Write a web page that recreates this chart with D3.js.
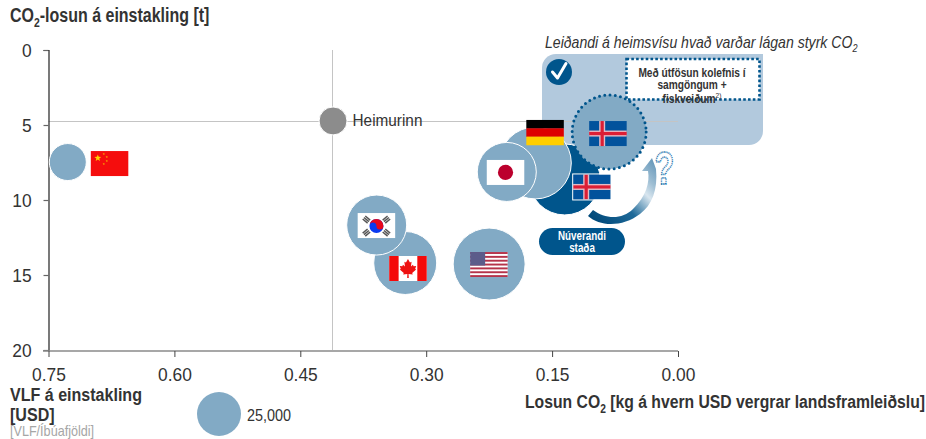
<!DOCTYPE html>
<html lang="is">
<head>
<meta charset="utf-8">
<script src="https://cdn.jsdelivr.net/npm/d3@7"></script>
<style>
  html, body { margin: 0; padding: 0; background: #fff; }
  svg { display: block; }
  text { font-family: "Liberation Sans", Arial, sans-serif; fill: #333; }
  .b { font-weight: 700; }
</style>
</head>
<body>
<svg id="chart" width="926" height="439"></svg>
<script>
// Carbon intensity of GDP against per-capita emissions; bubble area is GDP per capita.
const countries   = ["cn", "world", "ca", "kr", "us", "is", "de", "jp", "isTarget"];
const co2PerGdp   = [0.727, 0.411, 0.325, 0.359, 0.225, 0.135, 0.170, 0.204, 0.082];
const co2PerHead  = [7.47, 4.73, 14.2, 11.67, 14.27, 8.63, 7.53, 8.13, 5.47];
const gdpPerHead  = [17700, 10100, 51250, 46500, 66900, 65100, 66900, 45000, 70700];
const xTicks      = [0.75, 0.60, 0.45, 0.30, 0.15, 0.00];
const yTicks      = [0, 5, 10, 15, 20];
const legendValue = 25000;
const worldLabel  = "Heimurinn";

const BUBBLE = "#82aac5", DARK = "#00558c", PANEL = "#b2c9dd";

const svg = d3.select("#chart");
const x = d3.scaleLinear().domain([0.75, 0]).range([48.5, 678]);
const y = d3.scaleLinear().domain([0, 20]).range([50, 350]);
const r = d3.scaleSqrt().domain([0, legendValue]).range([0, 22]);

const points = countries.map((id, i) => ({
  id, gx: co2PerGdp[i], gy: co2PerHead[i], gdp: gdpPerHead[i]
}));
const world = points.find(d => d.id === "world");

// Condensed text helper: squeezes the face horizontally and mixes sub/superscript runs.
function rich(parent, px, py, size, runs, opts = {}) {
  const t = parent.append("text")
    .attr("transform", `translate(${px},${py}) scale(${opts.sx || 0.82},1)`)
    .attr("font-size", size).attr("class", opts.bold ? "b" : null)
    .attr("text-anchor", opts.anchor || "start");
  if (opts.italic) t.attr("font-style", "italic");
  if (opts.fill) t.style("fill", opts.fill);
  runs.forEach(run => {
    const [s, kind] = Array.isArray(run) ? run : [run];
    const ts = t.append("tspan").text(s);
    if (kind === "sub") ts.attr("font-size", size * 0.65).attr("dy", size * 0.25);
    if (kind === "sup") ts.attr("font-size", size * 0.65).attr("dy", -size * 0.4).style("font-weight", 400);
    if (kind === "back") ts.attr("dy", -size * 0.25);
  });
  return t;
}

// Target panel sits behind the grid lines and bubbles
svg.append("path").attr("fill", PANEL)
  .attr("d", "M542,68 a14,14 0 0 1 14,-14 H763 V131 a14,14 0 0 1 -14,14 H542 Z");

// World reference lines
const refLines = svg.append("g").attr("stroke", "#c4c4c4").attr("stroke-width", 1);
refLines.append("line").attr("x1", Math.round(x(world.gx)) - 0.5).attr("x2", Math.round(x(world.gx)) - 0.5).attr("y1", y(0)).attr("y2", y(20));
refLines.append("line").attr("x1", x(0.75)).attr("x2", x(0)).attr("y1", Math.round(y(world.gy)) + 0.5).attr("y2", Math.round(y(world.gy)) + 0.5);

// Axes
const yAxis = svg.append("g").attr("transform", `translate(${x(0.75)},0)`)
  .call(d3.axisLeft(y).tickValues(yTicks).tickSize(5).tickPadding(13).tickFormat(d3.format("d")));
yAxis.select(".domain").attr("stroke", "#222").attr("stroke-width", 1.2);
yAxis.selectAll(".tick line").attr("stroke", "#666").attr("stroke-width", 1.2);
yAxis.selectAll("text").attr("font-size", 18.5).attr("dy", "0.36em").attr("transform", "scale(0.94,1)");

const xAxis = svg.append("g").attr("transform", "translate(0,351)")
  .call(d3.axisBottom(x).tickValues(xTicks).tickSize(6).tickPadding(10.5).tickFormat(d3.format(".2f")));
xAxis.select(".domain").attr("stroke", "#8a8a8a").attr("stroke-width", 1.6).attr("d", `M43,0H${x(0)}`);
xAxis.selectAll(".tick line").attr("stroke", "#444");
xAxis.selectAll("text").attr("font-size", 18.5).attr("transform", "scale(0.94,1)");

// Bubbles
svg.append("g").selectAll("circle").data(points).join("circle")
  .attr("cx", d => x(d.gx)).attr("cy", d => y(d.gy)).attr("r", d => r(d.gdp))
  .attr("fill", d => d.id === "is" ? DARK : d.id === "world" ? "#8c8c8c" : BUBBLE)
  .attr("stroke", d => d.id === "isTarget" ? DARK : "#fff")
  .attr("stroke-width", d => d.id === "isTarget" ? 3 : 1)
  .attr("stroke-linecap", d => d.id === "isTarget" ? "round" : null)
  .attr("stroke-dasharray", d => d.id === "isTarget" ? "0 5.3" : null);

// Flags: all drawn in a 37.5 x 25 box
const FW = 37.5, FH = 25;
const star = (cx, cy, o) => {
  const pts = d3.range(10).map(i => {
    const a = -Math.PI / 2 + i * Math.PI / 5, R = i % 2 ? o * 0.42 : o;
    return [cx + R * Math.cos(a), cy + R * Math.sin(a)];
  });
  return "M" + pts.join("L") + "Z";
};
const flags = {
  cn(g) {
    g.append("rect").attr("width", FW).attr("height", FH).attr("fill", "#f50d0d");
    g.append("path").attr("fill", "#ffd400").attr("d", star(7, 7, 3.6));
    [[13, 3], [16, 6], [16, 10], [13, 13]].forEach(p =>
      g.append("path").attr("fill", "#f7a800").attr("d", star(p[0], p[1], 1.3)));
  },
  kr(g) {
    g.append("rect").attr("width", FW).attr("height", FH).attr("fill", "#fff");
    const c = [FW / 2, FH / 2 + 0.5];
    g.append("circle").attr("cx", c[0]).attr("cy", c[1]).attr("r", 7).attr("fill", "#0a3af0");
    g.append("path").attr("fill", "#e8071c")
      .attr("d", `M${c[0] - 7},${c[1]} A7,7 0 0 1 ${c[0] + 7},${c[1]} A3.5,3.5 0 0 1 ${c[0]},${c[1]} A3.5,3.5 0 0 0 ${c[0] - 7},${c[1]} Z`);
    [[-10, -6.5, 40], [10, -6.5, -40], [-10, 6.5, -40], [10, 6.5, 40]].forEach(([dx, dy, a]) => {
      const tri = g.append("g").attr("transform", `translate(${c[0] + dx},${c[1] + dy}) rotate(${a})`);
      [-2, 0, 2].forEach(o => tri.append("rect").attr("x", -3.2).attr("y", o - 0.75)
        .attr("width", 6.4).attr("height", 1.5).attr("fill", "#555"));
    });
  },
  ca(g) {
    g.append("rect").attr("width", FW).attr("height", FH).attr("fill", "#fff");
    g.append("rect").attr("width", 9.4).attr("height", FH).attr("fill", "#f40a0a");
    g.append("rect").attr("x", FW - 9.4).attr("width", 9.4).attr("height", FH).attr("fill", "#f40a0a");
    g.append("path").attr("fill", "#ee1111").attr("transform", `translate(${FW / 2},${FH / 2})`)
      .attr("d", "M0,-9.5 L2,-6 L3.6,-6.8 L3,-2 L5,-3.8 L5.6,-2.2 L8.2,-2.6 L7.2,0.4 L8.2,1 L4.2,4.4 L4.8,6 L0.6,5.4 L0.8,9.5 L-0.8,9.5 L-0.6,5.4 L-4.8,6 L-4.2,4.4 L-8.2,1 L-7.2,0.4 L-8.2,-2.6 L-5.6,-2.2 L-5,-3.8 L-3,-2 L-3.6,-6.8 L-2,-6 Z");
  },
  us(g) {
    g.append("rect").attr("width", FW).attr("height", FH).attr("fill", "#fff");
    d3.range(0, 13, 2).forEach(i =>
      g.append("rect").attr("y", i * FH / 13).attr("width", FW).attr("height", FH / 13).attr("fill", "#b5334a"));
    g.append("rect").attr("width", 15).attr("height", 13.5).attr("fill", "#5c5c8a");
  },
  is(g) {
    g.append("rect").attr("width", FW).attr("height", FH).attr("fill", "#02529c");
    g.append("rect").attr("x", 10).attr("width", 6).attr("height", FH).attr("fill", "#e4b9c4");
    g.append("rect").attr("y", 9.5).attr("width", FW).attr("height", 6).attr("fill", "#e4b9c4");
    g.append("rect").attr("x", 11.4).attr("width", 3.2).attr("height", FH).attr("fill", "#dc1e35");
    g.append("rect").attr("y", 10.9).attr("width", FW).attr("height", 3.2).attr("fill", "#dc1e35");
  },
  de(g) {
    ["#000", "#dd0000", "#ffce00"].forEach((c, i) =>
      g.append("rect").attr("y", i * FH / 3).attr("width", FW).attr("height", FH / 3 + 0.3).attr("fill", c));
  },
  jp(g) {
    g.append("rect").attr("width", FW).attr("height", FH).attr("fill", "#fff");
    g.append("circle").attr("cx", FW / 2).attr("cy", FH / 2).attr("r", 7.6).attr("fill", "#bc002d");
  }
};

// Where each flag sits relative to the centre of its bubble
const flagOffset = {
  cn: [23, -11], kr: [-19, -12], ca: [-16, -7], us: [-19, -12],
  is: [8.5, -5], de: [-9, -43], jp: [-20, -12], isTarget: [-20, -11]
};
const flagDraw = { isTarget: "is" };
const flagLayer = svg.append("g");
["cn", "ca", "kr", "us", "jp", "de", "is", "isTarget"].forEach(id => {
  const d = points.find(p => p.id === id);
  const [dx, dy] = flagOffset[id];
  const g = flagLayer.append("g").attr("transform", `translate(${x(d.gx) + dx},${y(d.gy) + dy})`);
  flags[flagDraw[id] || id](g);
  if (id === "is") g.append("rect").attr("x", -0.5).attr("y", -0.5).attr("width", FW + 1).attr("height", FH + 1)
    .attr("fill", "none").attr("stroke", "#fff").attr("stroke-width", 1);
});

// Curved arrow from the current position to the target
const defs = svg.append("defs");
const grad = defs.append("linearGradient").attr("id", "arrowFill")
  .attr("gradientUnits", "userSpaceOnUse").attr("x1", 590).attr("y1", 216).attr("x2", 650).attr("y2", 160);
[[0, "#00497a"], [0.4, "#1f6a99"], [0.68, "#d9e6ef"], [0.82, "#9fbfd4"], [1, "#6f9dbd"]].forEach(([o, c]) =>
  grad.append("stop").attr("offset", o).attr("stop-color", c));
svg.append("path").attr("fill", "url(#arrowFill)")
  .attr("d", "M593,210 C605,219 622,220 633,209 C646,197 650,182 648,171 L642,171 L652,158 L656,169 C658,190 652,205 640,214 C623,227 600,227 588,216 Z");

svg.append("text").attr("transform", "translate(654.5,184) scale(0.7,1)").attr("font-size", 46).attr("class", "b")
  .style("fill", "#fff").attr("stroke", "#2a78b0").attr("stroke-width", 1.8).attr("stroke-dasharray", "1.2 1")
  .text("?");

// Panel furniture
svg.append("circle").attr("cx", 559).attr("cy", 72).attr("r", 13).attr("fill", DARK);
svg.append("path").attr("d", "M552.5,72 L557.5,78 L566,63.5").attr("fill", "none")
  .attr("stroke", "#fff").attr("stroke-width", 3).attr("stroke-linecap", "round").attr("stroke-linejoin", "round");
svg.append("rect").attr("x", 626.5).attr("y", 59).attr("width", 133).attr("height", 40.5).attr("fill", "#fff")
  .attr("stroke", DARK).attr("stroke-width", 2.6).attr("stroke-dasharray", "2.6 2.2");

rich(svg, 692, 77, 12.4, ["Með útfösun kolefnis í"], { bold: true, anchor: "middle" });
rich(svg, 692, 89, 12.4, ["samgöngum +"], { bold: true, anchor: "middle" });
rich(svg, 692, 103, 12.4, ["fiskveiðum", ["2)", "sup"]], { bold: true, anchor: "middle" });

rich(svg, 545, 48, 16, ["Leiðandi á heimsvísu hvað varðar lágan styrk CO", ["2", "sub"]], { italic: true, sx: 0.88 });

// Current-position tag
svg.append("rect").attr("x", 539).attr("y", 228).attr("width", 86).attr("height", 27).attr("rx", 13.5).attr("fill", DARK);
rich(svg, 582, 240, 12, ["Núverandi"], { bold: true, anchor: "middle", fill: "#fff" });
rich(svg, 582, 252, 12, ["staða"], { bold: true, anchor: "middle", fill: "#fff" });

// Labels and titles
rich(svg, x(world.gx) + 19.5, 126, 16.5, [worldLabel], { sx: 0.93 });
rich(svg, 10, 22, 19.5, ["CO", ["2", "sub"], ["-losun á einstakling [t]", "back"]], { bold: true });
rich(svg, 925, 408, 19.2, ["Losun CO", ["2", "sub"], [" [kg á hvern USD vergrar landsframleiðslu]", "back"]], { bold: true, anchor: "end" });
rich(svg, 10, 401, 19, ["VLF á einstakling"], { bold: true, sx: 0.845 });
rich(svg, 10, 421, 19, ["[USD]"], { bold: true, sx: 0.845 });
rich(svg, 10, 436, 14.5, ["[VLF/Íbúafjöldi]"], { fill: "#a6a6a6", sx: 0.87 });

// Size legend
svg.append("circle").attr("cx", 219).attr("cy", 414).attr("r", r(legendValue)).attr("fill", BUBBLE);
rich(svg, 247, 421, 16, [d3.format(",")(legendValue)], { sx: 0.9 });
</script>
</body>
</html>
